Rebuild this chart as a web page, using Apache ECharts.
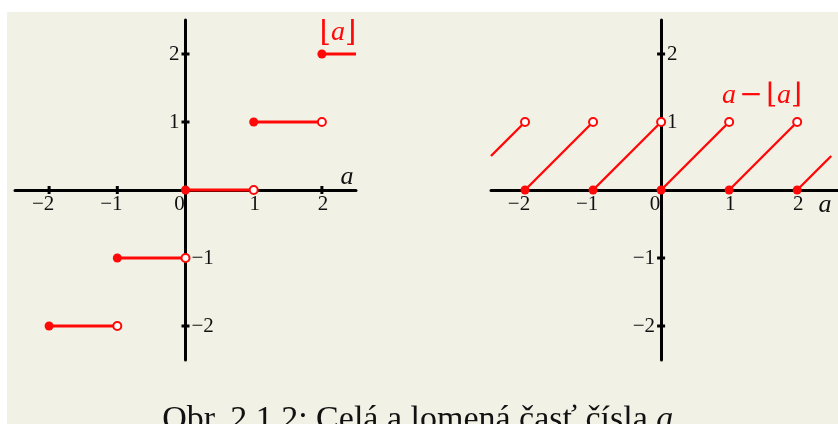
<!DOCTYPE html>
<html>
<head>
<meta charset="utf-8">
<script src="https://cdn.jsdelivr.net/npm/echarts@6/dist/echarts.min.js"></script>
<style>
  html, body { margin: 0; padding: 0; background: #ffffff; }
  #chart { position: absolute; left: 7px; top: 12px; width: 831px; height: 412px; }
</style>
</head>
<body>
<div id="chart"></div>
<script>
// Tick positions and labels shared by both panels
const xTickValues = [-2, -1, 0, 1, 2];
const xTickLabels = ['\u22122', '\u22121', '0', '1', '2'];
const xTickMarks = [-2, -1, 1, 2];
const yTicksUpper = [1, 2];
const yLabelsUpper = ['1', '2'];
const yTicksLower = [-1, -2];
const yLabelsLower = ['\u22121', '\u22122'];

// Floor function: horizontal steps [x0, x1] at height y
const floorSegX = [[-2, -1], [-1, 0], [0, 1], [1, 2], [2, 2.5]];
const floorSegY = [-2, -1, 0, 1, 2];
const floorClosed = [[-2, -2], [-1, -1], [0, 0], [1, 1], [2, 2]];
const floorOpen = [[-1, -2], [0, -1], [1, 0], [2, 1]];

// Fractional part: sawtooth pieces [x0, x1] with heights [y0, y1]
const fracSegX = [[-2.5, -2], [-2, -1], [-1, 0], [0, 1], [1, 2], [2, 2.5]];
const fracSegY = [[0.5, 1], [0, 1], [0, 1], [0, 1], [0, 1], [0, 0.5]];
const fracClosed = [[-2, 0], [-1, 0], [0, 0], [1, 0], [2, 0]];
const fracOpen = [[-2, 1], [-1, 1], [0, 1], [1, 1], [2, 1]];

const RED = '#ff0808';
const SERIF = 'Liberation Serif';
const labelFont = { fontFamily: SERIF, fontSize: 21, color: '#111' };

function axisX(gridIndex, max) {
  return {
    type: 'value', gridIndex, min: -2.5, max,
    axisLine: { onZero: true, lineStyle: { color: '#000', width: 3 } },
    axisTick: { show: false }, axisLabel: { show: false }, splitLine: { show: false }
  };
}
function axisY(gridIndex) {
  return {
    type: 'value', gridIndex, min: -2.5, max: 2.5,
    axisLine: { onZero: true, lineStyle: { color: '#000', width: 3 } },
    axisTick: { show: false }, axisLabel: { show: false }, splitLine: { show: false }
  };
}

// Tick marks crossing the axes, and tick labels, placed in data coordinates
function axisDecor(xi, yi, upperSide, lowerSide) {
  const out = [];
  const base = { type: 'scatter', xAxisIndex: xi, yAxisIndex: yi, z: 4, silent: true };
  out.push(Object.assign({}, base, { symbol: 'rect', symbolSize: [3, 8],
    itemStyle: { color: '#000', opacity: 1 }, data: xTickMarks.map(v => [v, 0]) }));
  out.push(Object.assign({}, base, { symbol: 'rect', symbolSize: [8, 3],
    itemStyle: { color: '#000', opacity: 1 }, data: yTicksUpper.concat(yTicksLower).map(v => [0, v]) }));
  out.push(Object.assign({}, base, { symbolSize: 0, itemStyle: { opacity: 1 },
    data: xTickValues.map((v, i) => ({ value: [v, 0], label: {
      formatter: xTickLabels[i], offset: [v <= 0 ? -6 : 1, 0] } })),
    label: Object.assign({ show: true, position: 'bottom', distance: 4, align: 'center' }, labelFont) }));
  out.push(Object.assign({}, base, { symbolSize: 0, itemStyle: { opacity: 1 },
    data: yTicksUpper.map((v, i) => ({ value: [0, v], label: { formatter: yLabelsUpper[i] } })),
    label: Object.assign({ show: true, position: upperSide, distance: 6 }, labelFont) }));
  out.push(Object.assign({}, base, { symbolSize: 0, itemStyle: { opacity: 1 },
    data: yTicksLower.map((v, i) => ({ value: [0, v], label: { formatter: yLabelsLower[i] } })),
    label: Object.assign({ show: true, position: lowerSide, distance: 6 }, labelFont) }));
  return out;
}

const series = [];
series.push(...axisDecor(0, 0, 'left', 'right'));
series.push(...axisDecor(1, 1, 'right', 'left'));

// left panel: floor
floorSegX.forEach((seg, i) => {
  series.push({ type: 'line', xAxisIndex: 0, yAxisIndex: 0, symbol: 'none', z: 5, silent: true,
    lineStyle: { color: RED, width: 3 }, data: [[seg[0], floorSegY[i]], [seg[1], floorSegY[i]]] });
});
series.push({ type: 'scatter', xAxisIndex: 0, yAxisIndex: 0, symbolSize: 9, z: 6,
  itemStyle: { color: RED, opacity: 1 }, data: floorClosed });
series.push({ type: 'scatter', xAxisIndex: 0, yAxisIndex: 0, symbolSize: 8, z: 6,
  itemStyle: { color: '#fff', borderColor: RED, borderWidth: 2, opacity: 1 }, data: floorOpen });

// right panel: fractional part
fracSegX.forEach((seg, i) => {
  series.push({ type: 'line', xAxisIndex: 1, yAxisIndex: 1, symbol: 'none', z: 5, silent: true,
    lineStyle: { color: RED, width: 2.4 }, data: [[seg[0], fracSegY[i][0]], [seg[1], fracSegY[i][1]]] });
});
series.push({ type: 'scatter', xAxisIndex: 1, yAxisIndex: 1, symbolSize: 9, z: 6,
  itemStyle: { color: RED, opacity: 1 }, data: fracClosed });
series.push({ type: 'scatter', xAxisIndex: 1, yAxisIndex: 1, symbolSize: 8, z: 6,
  itemStyle: { color: '#fff', borderColor: RED, borderWidth: 2, opacity: 1 }, data: fracOpen });

const chart = echarts.init(document.getElementById('chart'), null, { renderer: 'canvas' });
chart.setOption({
  backgroundColor: '#f2f1e6',
  animation: false,
  grid: [
    { left: 8, top: 8, width: 341, height: 340, outerBoundsMode: 'none', containLabel: false },
    { left: 484, top: 8, width: 347, height: 340, outerBoundsMode: 'none', containLabel: false }
  ],
  xAxis: [axisX(0, 2.5), axisX(1, 2.6)],
  yAxis: [axisY(0), axisY(1)],
  series,
  graphic: [
    { type: 'text', x: 331, y: 21, z: 10, style: {
        text: '{b|\u230A}{a|a}{b|\u230B}', align: 'center', verticalAlign: 'middle',
        rich: { b: { fontFamily: 'DejaVu Serif', fontSize: 29, fill: RED },
                a: { fontFamily: SERIF, fontStyle: 'italic', fontSize: 28, fill: RED } } } },
    { type: 'text', x: 755, y: 84, z: 10, style: {
        text: '{a|a} {b|\u2212} {b|\u230A}{a|a}{b|\u230B}', align: 'center', verticalAlign: 'middle',
        rich: { b: { fontFamily: 'DejaVu Serif', fontSize: 28, fill: RED },
                a: { fontFamily: SERIF, fontStyle: 'italic', fontSize: 28, fill: RED } } } },
    { type: 'text', x: 340, y: 165, z: 10, style: {
        text: 'a', align: 'center', verticalAlign: 'middle',
        fontFamily: SERIF, fontStyle: 'italic', fontSize: 26, fill: '#111' } },
    { type: 'text', x: 818, y: 193, z: 10, style: {
        text: 'a', align: 'center', verticalAlign: 'middle',
        fontFamily: SERIF, fontStyle: 'italic', fontSize: 26, fill: '#111' } },
    { type: 'text', x: 415, y: 408, z: 10, style: {
        text: '{r|Obr. 2.1.2: Celá a lomená časť čísla }{i|a}{r|.}', align: 'center', verticalAlign: 'middle',
        rich: { r: { fontFamily: SERIF, fontSize: 34, fill: '#111' },
                i: { fontFamily: SERIF, fontStyle: 'italic', fontSize: 34, fill: '#111' } } } }
  ]
});
</script>
</body>
</html>
